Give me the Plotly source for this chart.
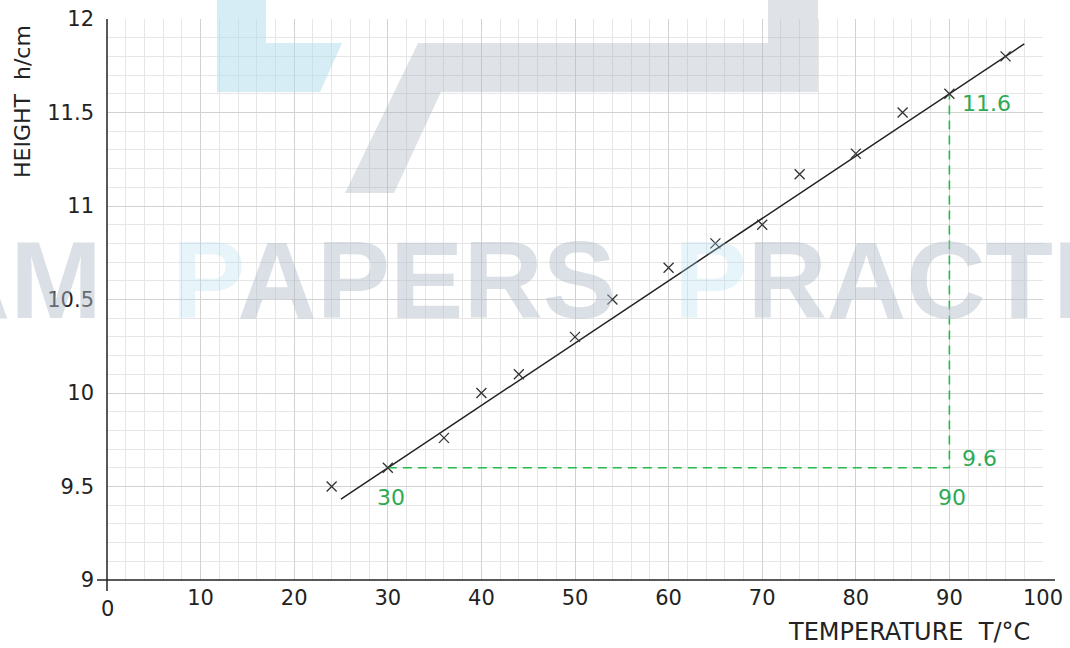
import plotly.graph_objects as go

# ---- data ----
temps = [24, 30, 36, 40, 44, 50, 54, 60, 65, 70, 74, 80, 85, 90, 96]
heights = [9.50, 9.60, 9.76, 10.00, 10.10, 10.30, 10.50, 10.67, 10.80, 10.90, 11.17, 11.28, 11.50, 11.60, 11.80]
fit_x = [25, 98]
fit_y = [9.433, 11.867]
grad_x = [30, 90, 90]
grad_y = [9.6, 9.6, 11.6]
x_ticks = [10, 20, 30, 40, 50, 60, 70, 80, 90, 100]
y_ticks = [9, 9.5, 10, 10.5, 11, 11.5, 12]
y_tick_text = ["9", "9.5", "10", "10.5", "11", "11.5", "12"]

W, H = 1070, 648
L, R, T, B = 107, 1043, 19, 580
FONT = "DejaVu Sans"
GREEN = "#2eaa55"
DASH_GREEN = "#25b84a"


def px(x):
    return (x - L) / (R - L)


def py(y):
    return (B - y) / (B - T)


fig = go.Figure()

fig.add_trace(go.Scatter(x=fit_x, y=fit_y, mode="lines",
                         line=dict(color="#222222", width=1.5), hoverinfo="skip"))
fig.add_trace(go.Scatter(x=grad_x, y=grad_y, mode="lines",
                         line=dict(color=DASH_GREEN, width=1.6, dash="9px,6px"), hoverinfo="skip"))
fig.add_trace(go.Scatter(x=temps, y=heights, mode="markers",
                         marker=dict(symbol="x-thin", size=10, line=dict(color="#333333", width=1.3))))

shapes = []
# watermark logo shapes
blue_poly = [(217, 0), (266, 0), (266, 43), (342, 43), (320, 92), (217, 92)]
gray_poly = [(418, 43), (768, 43), (768, 0), (818, 0), (818, 92), (441, 92), (394, 193), (345, 193)]
for poly, col in [(blue_poly, "rgba(175,220,236,0.5)"), (gray_poly, "rgba(170,182,192,0.38)")]:
    path = "M " + " L ".join(f"{px(a):.4f},{py(b):.4f}" for a, b in poly) + " Z"
    shapes.append(dict(type="path", path=path, xref="paper", yref="paper",
                       fillcolor=col, line=dict(width=0), layer="above"))
# axis lines
shapes.append(dict(type="line", xref="paper", yref="paper", x0=px(97), x1=px(1055), y0=0, y1=0,
                   line=dict(color="#222222", width=1.5)))
shapes.append(dict(type="line", xref="paper", yref="paper", x0=0, x1=0, y0=py(591), y1=1,
                   line=dict(color="#222222", width=1.5)))

ann = []
# watermark text
wm_gray = "rgba(178,190,200,0.48)"
wm_blue = "rgba(170,218,236,0.6)"
wm_font = dict(family="Liberation Sans", size=110, color=wm_gray, weight="bold")
ann.append(dict(text="EXAM", x=px(104), y=py(279), xref="paper", yref="paper",
                xanchor="right", yanchor="middle", showarrow=False, font=wm_font))
ann.append(dict(text=f"<span style='color:{wm_blue}'>P</span>APERS", x=px(170), y=py(279),
                xref="paper", yref="paper", xanchor="left", yanchor="middle", showarrow=False, font=wm_font))
ann.append(dict(text=f"<span style='color:{wm_blue}'>P</span>RACTICE", x=px(672), y=py(279),
                xref="paper", yref="paper", xanchor="left", yanchor="middle", showarrow=False, font=wm_font))

# origin label
ann.append(dict(text="0", x=0, y=py(609), xref="paper", yref="paper", xanchor="center",
                yanchor="middle", showarrow=False, font=dict(family=FONT, size=21, color="#222")))
# axis titles
ann.append(dict(text="HEIGHT  h/cm", x=px(22), y=py(102), xref="paper", yref="paper", textangle=-90,
                xanchor="center", yanchor="middle", showarrow=False,
                font=dict(family=FONT, size=22, color="#222")))
ann.append(dict(text="TEMPERATURE  T/°C", x=px(909), y=py(632), xref="paper", yref="paper",
                xanchor="center", yanchor="middle", showarrow=False,
                font=dict(family=FONT, size=24, color="#222")))
# gradient labels
gf = dict(family=FONT, size=22, color=GREEN)
ann.append(dict(text="11.6", x=grad_x[2], y=grad_y[2], xanchor="left", yanchor="middle",
                xshift=11, yshift=-10, showarrow=False, font=gf))
ann.append(dict(text="9.6", x=grad_x[1], y=grad_y[1], xanchor="left", yanchor="middle",
                xshift=11, yshift=9, showarrow=False, font=gf))
ann.append(dict(text="90", x=grad_x[1], y=grad_y[1], xanchor="center", yanchor="middle",
                xshift=3, yshift=-30, showarrow=False, font=gf))
ann.append(dict(text="30", x=grad_x[0], y=grad_y[0], xanchor="center", yanchor="middle",
                xshift=3, yshift=-30, showarrow=False, font=gf))

fig.update_layout(
    width=W, height=H,
    margin=dict(l=L, r=W - R, t=T, b=H - B, pad=0, autoexpand=False),
    paper_bgcolor="white", plot_bgcolor="white",
    showlegend=False,
    shapes=shapes, annotations=ann,
    xaxis=dict(range=[0, 100], tickvals=x_ticks, ticktext=[str(v) for v in x_ticks],
               showgrid=True, gridcolor="#d2d2d2", gridwidth=1, zeroline=False, showline=False,
               ticks="", ticklabelstandoff=3, automargin=False,
               tickfont=dict(family=FONT, size=21, color="#222"),
               minor=dict(dtick=2, showgrid=True, gridcolor="#e6e6e6", gridwidth=1)),
    yaxis=dict(range=[9, 12], tickvals=y_ticks, ticktext=y_tick_text,
               showgrid=True, gridcolor="#d2d2d2", gridwidth=1, zeroline=False, showline=False,
               ticks="", ticklabelstandoff=12, automargin=False,
               tickfont=dict(family=FONT, size=21, color="#222"),
               minor=dict(dtick=0.1, showgrid=True, gridcolor="#e6e6e6", gridwidth=1)),
)

fig.write_html("out.html", config={"displayModeBar": False},
               post_script="document.body.style.margin='0px';")
